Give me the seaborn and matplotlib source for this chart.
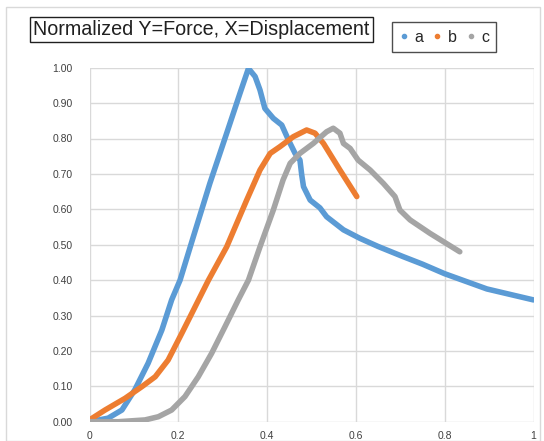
import pandas as pd
import seaborn as sns
import matplotlib.pyplot as plt
from matplotlib.patches import Rectangle

# values (normalized displacement, normalized force)
a_x = [0.0, 0.042, 0.073, 0.102, 0.132, 0.163, 0.185, 0.204, 0.234, 0.271, 0.309, 0.339,
       0.358, 0.373, 0.384, 0.395, 0.414, 0.433, 0.448, 0.463, 0.474, 0.478, 0.482,
       0.497, 0.519, 0.534, 0.572, 0.609, 0.65, 0.707, 0.75, 0.8, 0.895, 1.0]
a_y = [0.0, 0.01, 0.033, 0.09, 0.165, 0.259, 0.344, 0.40, 0.523, 0.673, 0.815, 0.928,
       0.998, 0.975, 0.937, 0.885, 0.857, 0.838, 0.796, 0.758, 0.739, 0.697, 0.664,
       0.626, 0.604, 0.579, 0.542, 0.518, 0.495, 0.466, 0.445, 0.418, 0.375, 0.344]

b_x = [0.0, 0.035, 0.08, 0.118, 0.148, 0.177, 0.208, 0.238, 0.268, 0.309, 0.354, 0.384,
       0.407, 0.429, 0.459, 0.489, 0.508, 0.527, 0.564, 0.602]
b_y = [0.005, 0.033, 0.066, 0.099, 0.127, 0.174, 0.25, 0.325, 0.40, 0.494, 0.626, 0.711,
       0.758, 0.777, 0.805, 0.824, 0.815, 0.786, 0.711, 0.636]

c_x = [0.0, 0.065, 0.125, 0.155, 0.185, 0.215, 0.245, 0.275, 0.305, 0.335, 0.358, 0.384,
       0.414, 0.436, 0.452, 0.474, 0.504, 0.534, 0.549, 0.564, 0.572, 0.587, 0.605,
       0.632, 0.662, 0.688, 0.699, 0.722, 0.767, 0.834]
c_y = [0.0, 0.0, 0.005, 0.014, 0.033, 0.071, 0.127, 0.193, 0.268, 0.344, 0.40, 0.494,
       0.598, 0.683, 0.73, 0.758, 0.786, 0.819, 0.829, 0.815, 0.786, 0.772, 0.739,
       0.711, 0.673, 0.636, 0.598, 0.57, 0.532, 0.48]

series = {"a": (a_x, a_y), "b": (b_x, b_y), "c": (c_x, c_y)}
colors = {"a": "#5b9bd5", "b": "#ed7d31", "c": "#a5a5a5"}

frames = []
for name, (xs, ys) in series.items():
    frames.append(pd.DataFrame({"x": xs, "y": ys, "series": name}))
df = pd.concat(frames, ignore_index=True)

sns.set_theme(style="whitegrid")
plt.rcParams["font.family"] = ["Liberation Sans", "DejaVu Sans"]

fig = plt.figure(figsize=(5.44, 4.41), dpi=100)
ax = fig.add_axes([89.5 / 544, 19.3 / 441, 444 / 544, 354 / 441])

for name in series:
    sub = df[df["series"] == name]
    sns.lineplot(data=sub, x="x", y="y", ax=ax, color=colors[name], linewidth=4,
                 sort=False, estimator=None, legend=False,
                 solid_capstyle="round", solid_joinstyle="round")

ax.set_xlim(0, 1)
ax.set_ylim(0, 1)
ax.set_xticks([0, 0.2, 0.4, 0.6, 0.8, 1.0])
ax.set_xticklabels(["0", "0.2", "0.4", "0.6", "0.8", "1"])
ax.set_yticks([i / 10 for i in range(11)])
ax.set_yticklabels([f"{i / 10:.2f}" for i in range(11)])
ax.tick_params(labelsize=7.5, colors="#404040")
ax.tick_params(axis="x", pad=0.5)
ax.tick_params(axis="y", pad=6)
ax.set_xlabel("")
ax.set_ylabel("")
ax.grid(color="#d9d9d9", linewidth=1)
for s in ax.spines.values():
    s.set_visible(False)

# outer chart border
fig.patches.append(Rectangle((6 / 544, 0), 534 / 544, 434 / 441, transform=fig.transFigure,
                             fill=False, edgecolor="#d9d9d9", linewidth=1))

fig.text(33 / 544, 411.5 / 441, "Normalized Y=Force, X=Displacement", fontsize=14.2,
         color="#202020", va="center", ha="left",
         bbox=dict(boxstyle="square,pad=0.17", facecolor="white", edgecolor="#202020", linewidth=1))

handles = [plt.Line2D([], [], marker="o", linestyle="", markersize=3, color=colors[n]) for n in series]
leg = fig.legend(handles, list(series), loc="center", bbox_to_anchor=(444 / 544, 404 / 441),
                 ncol=3, frameon=True, fontsize=11.5, handlelength=0.6, handletextpad=0.35,
                 columnspacing=0.6, borderpad=0.45, fancybox=False)
leg.get_frame().set_edgecolor("#202020")
leg.get_frame().set_linewidth(1)

fig.savefig("out.png", dpi=100)
